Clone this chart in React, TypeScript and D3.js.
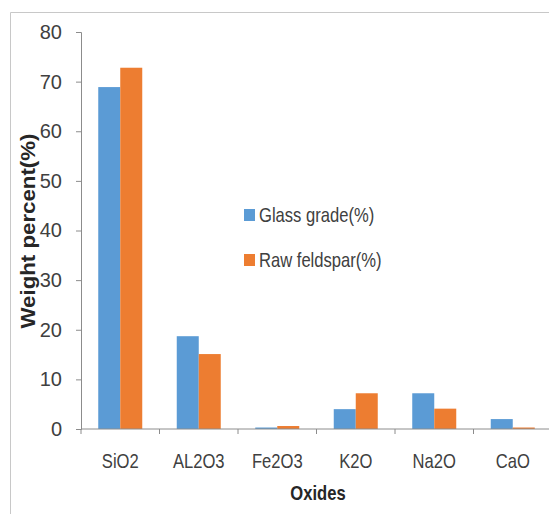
import React, { useEffect, useRef } from "react";
import { select, scaleBand, scaleLinear, axisLeft } from "d3";

const oxides = ["SiO2", "AL2O3", "Fe2O3", "K2O", "Na2O", "CaO"];
const seriesNames = ["Glass grade(%)", "Raw feldspar(%)"];
const glassGrade = [68.9, 18.7, 0.3, 4.0, 7.2, 2.0];
const rawFeldspar = [72.8, 15.1, 0.6, 7.2, 4.1, 0.3];
const yTicks = [0, 10, 20, 30, 40, 50, 60, 70, 80];
const colors = ["#5B9BD5", "#ED7D31"];

const FONT = "'Liberation Sans Narrow', 'Liberation Sans', Arial, sans-serif";
const SQUEEZE = 0.83; // the original font is narrower than Liberation Sans

const App = () => {
  const svgRef = useRef(null);

  useEffect(() => {
    const svg = select(svgRef.current);
    svg.selectAll("*").remove();

    const left = 81;
    const step = 78.5;
    const y = scaleLinear().domain([0, 80]).range([429, 32]);
    const x = scaleBand().domain(oxides).range([left, left + step * oxides.length]);
    const x1 = scaleBand().domain(seriesNames).range([0, x.bandwidth()]).paddingOuter(0.784);

    // outer frame
    svg.append("path")
      .attr("d", "M10.5,514 V12.5 H549")
      .attr("fill", "none")
      .attr("stroke", "#c8c8c8");

    // y axis
    const yAxisG = svg.append("g").attr("transform", `translate(${left},0)`);
    yAxisG.call(axisLeft(y).tickValues(yTicks).tickSize(5).tickPadding(14));
    yAxisG.select(".domain").attr("stroke", "#8c8c8c");
    yAxisG.selectAll(".tick line").attr("stroke", "#8c8c8c");
    yAxisG.selectAll(".tick text")
      .attr("font-family", FONT)
      .attr("font-size", 20)
      .attr("fill", "#404040");

    // bars
    const data = oxides.map((d, i) => ({ cat: d, values: [glassGrade[i], rawFeldspar[i]] }));
    const groups = svg.selectAll(".grp").data(data).enter().append("g")
      .attr("class", "grp")
      .attr("transform", d => `translate(${x(d.cat)},0)`);
    groups.selectAll("rect").data(d => d.values).enter().append("rect")
      .attr("x", (d, i) => x1(seriesNames[i]))
      .attr("width", x1.bandwidth())
      .attr("y", d => y(d))
      .attr("height", d => y(0) - y(d))
      .attr("fill", (d, i) => colors[i]);

    // x axis line + ticks at category boundaries
    svg.append("line")
      .attr("x1", left).attr("x2", 549)
      .attr("y1", y(0)).attr("y2", y(0))
      .attr("stroke", "#8c8c8c");
    svg.selectAll(".xtick").data(oxides).enter().append("line")
      .attr("class", "xtick")
      .attr("x1", d => x(d)).attr("x2", d => x(d))
      .attr("y1", y(0)).attr("y2", y(0) + 5)
      .attr("stroke", "#8c8c8c");
    svg.selectAll(".xlabel").data(oxides).enter().append("text")
      .attr("class", "xlabel")
      .attr("transform", d => `translate(${x(d) + x.bandwidth() / 2},468) scale(${SQUEEZE},1)`)
      .attr("text-anchor", "middle")
      .attr("font-family", FONT)
      .attr("font-size", 20)
      .attr("fill", "#404040")
      .text(d => d);

    // axis titles
    svg.append("text")
      .attr("transform", `translate(318,500) scale(${SQUEEZE},1)`)
      .attr("text-anchor", "middle")
      .attr("font-family", FONT)
      .attr("font-size", 20)
      .attr("font-weight", "bold")
      .attr("fill", "#262626")
      .text("Oxides");
    svg.append("text")
      .attr("transform", "translate(35,231) rotate(-90)")
      .attr("text-anchor", "middle")
      .attr("font-family", FONT)
      .attr("font-size", 21)
      .attr("font-weight", "bold")
      .attr("fill", "#262626")
      .attr("textLength", 195)
      .attr("lengthAdjust", "spacingAndGlyphs")
      .text("Weight percent(%)");

    // legend
    const legend = svg.selectAll(".legend").data(seriesNames).enter().append("g")
      .attr("class", "legend")
      .attr("transform", (d, i) => `translate(244,${209 + i * 45})`);
    legend.append("rect")
      .attr("width", 11).attr("height", 12)
      .attr("fill", (d, i) => colors[i]);
    legend.append("text")
      .attr("transform", `translate(15,13) scale(${SQUEEZE},1)`)
      .attr("font-family", FONT)
      .attr("font-size", 20)
      .attr("fill", "#404040")
      .text(d => d);
  });

  return (
    <svg ref={svgRef} width={549} height={514}
      style={{ position: "absolute", left: 0, top: 0, background: "#fff" }} />
  );
};

export default App;
